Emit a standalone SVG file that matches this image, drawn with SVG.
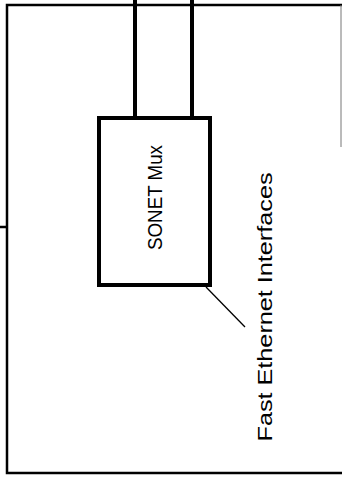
<svg xmlns="http://www.w3.org/2000/svg" width="342" height="477" viewBox="0 0 342 477">
<style>
.frame{fill:none;stroke:#000;stroke-width:2.5}
.thick{fill:none;stroke:#000;stroke-width:4}
.thin{fill:none;stroke:#000;stroke-width:1.3}
.lbl{font-family:"Liberation Sans",Arial,sans-serif;fill:#000}
</style>
<rect width="342" height="477" fill="#fff"/>
<g id="frame">
<path class="frame" d="M342,5 L7,5 L7,473 L342,473"/>
<line x1="341" y1="5" x2="341" y2="147" stroke="#777" stroke-width="1"/>
<line class="frame" x1="0" y1="227" x2="8" y2="227"/>
</g>
<g id="connectors">
<line class="thick" x1="135" y1="0" x2="135" y2="118"/>
<line class="thick" x1="192" y1="0" x2="192" y2="118"/>
<line class="thin" x1="206" y1="287" x2="245" y2="327"/>
</g>
<g id="sonet-mux">
<rect class="thick" x="99" y="118" width="111" height="167"/>
<text class="lbl" font-size="20" text-anchor="middle" transform="translate(162,197.5) rotate(-90)" textLength="105" lengthAdjust="spacingAndGlyphs">SONET Mux</text>
</g>
<g id="fast-ethernet-label">
<text class="lbl" font-size="21" text-anchor="middle" transform="translate(272,307) rotate(-90)" textLength="269" lengthAdjust="spacingAndGlyphs">Fast Ethernet Interfaces</text>
</g>
</svg>
